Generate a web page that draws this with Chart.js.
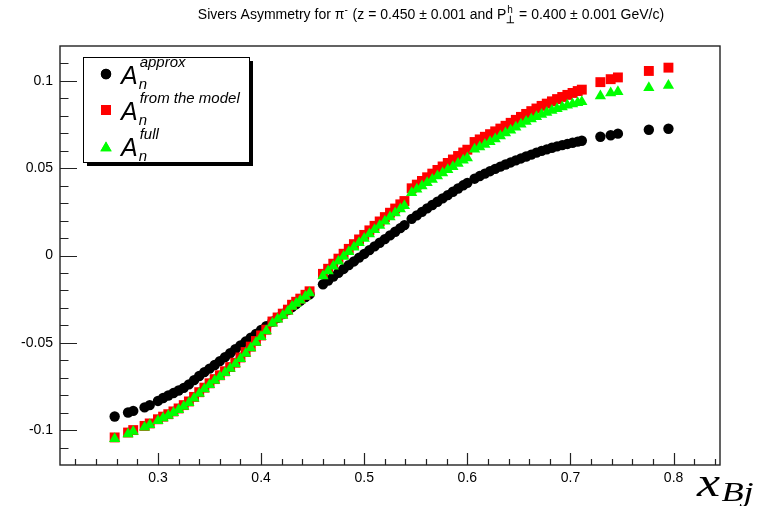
<!DOCTYPE html>
<html><head><meta charset="utf-8">
<script src="https://cdn.jsdelivr.net/npm/chart.js@4.4.1/dist/chart.umd.min.js"></script>
<style>html,body{margin:0;padding:0;background:#fff;} canvas{display:block;}</style>
</head><body>
<canvas id="c" width="762" height="506"></canvas>
<script>
// ---- data ----
const xBj = [
 0.258, 0.271, 0.276, 0.287, 0.292,
 0.300, 0.305, 0.310, 0.315, 0.320, 0.325, 0.330, 0.335, 0.340, 0.345, 0.350, 0.355, 0.360, 0.365, 0.370, 0.375, 0.380, 0.385, 0.390, 0.395, 0.400, 0.405,
 0.411, 0.416, 0.421, 0.426,
 0.430, 0.434, 0.438, 0.443, 0.447,
 0.460, 0.465, 0.470, 0.475, 0.480, 0.485, 0.490, 0.495, 0.500, 0.505, 0.510, 0.515, 0.520, 0.525, 0.530, 0.535, 0.539,
 0.546, 0.551, 0.556, 0.561, 0.566, 0.571, 0.576, 0.581, 0.586, 0.591, 0.596, 0.600,
 0.607, 0.612, 0.617, 0.622, 0.627, 0.632, 0.637, 0.642, 0.647, 0.652, 0.657, 0.662, 0.667, 0.672, 0.677, 0.682, 0.687, 0.692, 0.697, 0.702, 0.707, 0.711,
 0.729, 0.739, 0.746,
 0.776, 0.795
];
const anApprox = [
 -0.0922, -0.0899, -0.0890, -0.0870, -0.0857,
 -0.0833, -0.0816, -0.0802, -0.0788, -0.0773, -0.0758, -0.0738, -0.0714, -0.0690, -0.0668, -0.0648, -0.0627, -0.0605, -0.0582, -0.0560, -0.0537, -0.0515, -0.0493, -0.0471, -0.0449, -0.0427, -0.0405,
 -0.0379, -0.0357, -0.0335, -0.0313,
 -0.0296, -0.0278, -0.0260, -0.0238, -0.0222,
 -0.0165, -0.0143, -0.0121, -0.0099, -0.0077, -0.0055, -0.0034, -0.0012, 0.0009, 0.0031, 0.0052, 0.0073, 0.0094, 0.0115, 0.0136, 0.0157, 0.0174,
 0.0210, 0.0230, 0.0250, 0.0270, 0.0289, 0.0308, 0.0327, 0.0346, 0.0365, 0.0384, 0.0402, 0.0416,
 0.0440, 0.0455, 0.0469, 0.0483, 0.0496, 0.0509, 0.0521, 0.0533, 0.0545, 0.0556, 0.0567, 0.0578, 0.0589, 0.0599, 0.0608, 0.0617, 0.0625, 0.0632, 0.0639, 0.0646, 0.0652, 0.0657,
 0.0680, 0.0689, 0.0698,
 0.0720, 0.0726
];
const anModel = [
 -0.1042, -0.1014, -0.1000, -0.0976, -0.0962,
 -0.0938, -0.0923, -0.0909, -0.0893, -0.0876, -0.0857, -0.0836, -0.0810, -0.0783, -0.0757, -0.0732, -0.0708, -0.0686, -0.0663, -0.0639, -0.0614, -0.0584, -0.0553, -0.0522, -0.0490, -0.0458, -0.0425,
 -0.0378, -0.0355, -0.0333, -0.0310,
 -0.0282, -0.0265, -0.0247, -0.0225, -0.0205,
 -0.0105, -0.0076, -0.0047, -0.0018, 0.0010, 0.0038, 0.0065, 0.0092, 0.0118, 0.0144, 0.0170, 0.0195, 0.0220, 0.0245, 0.0269, 0.0293, 0.0312,
 0.0385, 0.0406, 0.0427, 0.0448, 0.0469, 0.0490, 0.0510, 0.0530, 0.0550, 0.0570, 0.0590, 0.0606,
 0.0650, 0.0665, 0.0680, 0.0695, 0.0711, 0.0727, 0.0743, 0.0760, 0.0777, 0.0794, 0.0811, 0.0827, 0.0842, 0.0857, 0.0870, 0.0883, 0.0896, 0.0908, 0.0920, 0.0931, 0.0942, 0.0950,
 0.0993, 0.1010, 0.1020,
 0.1057, 0.1076
];
const anFull = [
 -0.1050, -0.1022, -0.1008, -0.0984, -0.0970,
 -0.0946, -0.0931, -0.0917, -0.0901, -0.0884, -0.0865, -0.0844, -0.0818, -0.0791, -0.0765, -0.0740, -0.0716, -0.0694, -0.0671, -0.0647, -0.0622, -0.0592, -0.0561, -0.0530, -0.0498, -0.0466, -0.0433,
 -0.0388, -0.0365, -0.0343, -0.0320,
 -0.0292, -0.0275, -0.0257, -0.0235, -0.0215,
 -0.0117, -0.0089, -0.0061, -0.0033, -0.0006, 0.0021, 0.0047, 0.0073, 0.0098, 0.0123, 0.0148, 0.0172, 0.0196, 0.0220, 0.0243, 0.0266, 0.0285,
 0.0360, 0.0379, 0.0398, 0.0417, 0.0436, 0.0455, 0.0473, 0.0491, 0.0509, 0.0527, 0.0545, 0.0559,
 0.0608, 0.0622, 0.0636, 0.0651, 0.0667, 0.0684, 0.0701, 0.0718, 0.0735, 0.0752, 0.0768, 0.0782, 0.0795, 0.0808, 0.0819, 0.0830, 0.0841, 0.0851, 0.0860, 0.0868, 0.0875, 0.0880,
 0.0913, 0.0931, 0.0938,
 0.0961, 0.0974
];
const xTickValues = [0.3, 0.4, 0.5, 0.6, 0.7, 0.8];
const xTickLabels = ['0.3', '0.4', '0.5', '0.6', '0.7', '0.8'];
const yTickValues = [-0.1, -0.05, 0, 0.05, 0.1];
const yTickLabels = ['-0.1', '-0.05', '0', '0.05', '0.1'];
const seriesSup = ['approx', 'from the model', 'full'];
const seriesMain = 'A';
const seriesSub = 'n';
const titleParts = [
  {t: 'Sivers Asymmetry for \u03c0', k: 'n'},
  {t: '-', k: 'sup'},
  {t: ' (z = 0.450 \u00b1 0.001 and P', k: 'n'},
  {t: '\u22a5', k: 'sub'},
  {t: 'h', k: 'supstack'},
  {t: ' = 0.400 \u00b1 0.001 GeV/c)', k: 'n'}
];
const xTitleMain = 'x';
const xTitleSub = 'Bj';

const toPts = arr => xBj.map((x, i) => ({x: x, y: arr[i]}));

const SANS = '"Liberation Sans", Arial, Helvetica, sans-serif';
const SERIF = '"Liberation Serif", "DejaVu Serif", serif';

const rootPlugin = {
  id: 'rootDecor',
  afterDraw(chart) {
    const {ctx, chartArea: a, scales} = chart;
    const sx = scales.x, sy = scales.y;
    ctx.save();
    // frame
    ctx.strokeStyle = '#222';
    ctx.lineWidth = 1.4;
    ctx.strokeRect(a.left, a.top, a.right - a.left, a.bottom - a.top);
    // ticks
    ctx.lineWidth = 1.2;
    ctx.beginPath();
    for (let i = -11; i <= 11; i++) {
      const py = Math.round(sy.getPixelForValue(i / 100)) + 0.5;
      const L = (i % 5 === 0) ? 17 : 8.5;
      ctx.moveTo(a.left, py); ctx.lineTo(a.left + L, py);
    }
    for (let i = 11; i <= 42; i++) {
      const px = Math.round(sx.getPixelForValue(i * 0.02)) + 0.5;
      const L = (i % 5 === 0) ? 12 : 6;
      ctx.moveTo(px, a.bottom); ctx.lineTo(px, a.bottom - L);
    }
    ctx.stroke();

    // title
    const fs = 14;
    const fsS = 10;
    ctx.fillStyle = '#000';
    ctx.textBaseline = 'alphabetic';
    ctx.textAlign = 'left';
    const fontFor = k => (k === 'n' ? fs + 'px ' + SANS : (k === 'sub' ? 'bold ' + fsS + 'px ' + SANS : fsS + 'px ' + SANS));
    let total = 0, lastStart = 0, lastW = 0;
    const layout = [];
    for (const p of titleParts) {
      ctx.font = fontFor(p.k);
      const w = ctx.measureText(p.t).width;
      if (p.k === 'supstack') {
        layout.push({p, x: lastStart});
        total += Math.max(0, w - lastW);
      } else {
        layout.push({p, x: total});
        lastStart = total; lastW = w;
        total += w + (p.k === 'sup' ? 1 : 0);
      }
    }
    const tx0 = 431 - total / 2, tb = 19;
    for (const it of layout) {
      ctx.font = fontFor(it.p.k);
      let yy = tb;
      if (it.p.k === 'sup' || it.p.k === 'supstack') yy = tb - 6;
      if (it.p.k === 'sub') yy = tb + 4;
      ctx.fillText(it.p.t, tx0 + it.x + (it.p.k === 'supstack' ? 1 : 0), yy);
    }

    // legend
    const lg = {x: 83, y: 57, w: 166, h: 105};
    ctx.fillStyle = '#000';
    ctx.fillRect(lg.x + 4, lg.y + 4, lg.w, lg.h);
    ctx.fillStyle = '#fff';
    ctx.fillRect(lg.x, lg.y, lg.w, lg.h);
    ctx.strokeStyle = '#000';
    ctx.lineWidth = 1;
    ctx.strokeRect(lg.x + 0.5, lg.y + 0.5, lg.w, lg.h);
    const ds = chart.data.datasets;
    const rows = [74, 110, 146];
    for (let r = 0; r < 3; r++) {
      const d = ds[r];
      ctx.fillStyle = d.backgroundColor;
      Chart.helpers.drawPoint(ctx, {pointStyle: d.pointStyle, radius: d.pointRadius, rotation: 0, borderWidth: 0}, 106, rows[r] + (d.pointStyle === 'triangle' ? 2 : 0));
      ctx.fill();
      ctx.fillStyle = '#000';
      const base = rows[r] + 10;
      ctx.font = 'italic 25px ' + SANS;
      ctx.fillText(seriesMain, 121, base);
      const wA = ctx.measureText(seriesMain).width;
      ctx.font = 'italic 15px ' + SANS;
      ctx.fillText(seriesSub, 121 + wA + 1, base + 5);
      ctx.fillText(seriesSup[r], 121 + wA + 2, base - 17);
    }

    // x axis title (stretched serif italic, like the LaTeX math font)
    ctx.fillStyle = '#000';
    ctx.save();
    ctx.translate(697, 0);
    ctx.scale(1.3, 1);
    ctx.font = 'italic 40px ' + SERIF;
    ctx.fillText(xTitleMain, 0, 496);
    const wx = ctx.measureText(xTitleMain).width;
    ctx.font = 'italic 28px ' + SERIF;
    ctx.fillText(xTitleSub, wx + 1, 501);
    ctx.restore();
    ctx.restore();
  }
};

new Chart(document.getElementById('c'), {
  type: 'scatter',
  data: {
    datasets: [
      {label: 'approx', data: toPts(anApprox), pointStyle: 'circle', pointRadius: 5.2, backgroundColor: '#000000', borderWidth: 0, order: 3},
      {label: 'from the model', data: toPts(anModel), pointStyle: 'rect', pointRadius: 7, backgroundColor: '#ff0000', borderWidth: 0, order: 2},
      {label: 'full', data: toPts(anFull), pointStyle: 'triangle', pointRadius: 6.5, backgroundColor: '#00ff00', borderWidth: 0, order: 1}
    ]
  },
  options: {
    responsive: false,
    animation: false,
    devicePixelRatio: 1,
    layout: {padding: {top: 46, right: 42, left: 0, bottom: 0}},
    plugins: {legend: {display: false}, tooltip: {enabled: false}, title: {display: false}},
    elements: {point: {hoverRadius: 0}},
    scales: {
      x: {
        type: 'linear', min: 0.205, max: 0.845,
        grid: {display: false, drawTicks: false},
        border: {display: false},
        afterBuildTicks: s => { s.ticks = xTickValues.map(v => ({value: v})); },
        afterFit: s => { s.height = 41; },
        ticks: {autoSkip: false, maxRotation: 0, padding: 5, color: '#000', font: {family: SANS, size: 14},
          callback: (v, i) => xTickLabels[i]}
      },
      y: {
        type: 'linear', min: -0.12, max: 0.12,
        grid: {display: false, drawTicks: false},
        border: {display: false},
        afterBuildTicks: s => { s.ticks = yTickValues.map(v => ({value: v})); },
        afterFit: s => { s.width = 60; },
        ticks: {autoSkip: false, padding: 7, color: '#000', font: {family: SANS, size: 14},
          callback: (v, i) => yTickLabels[i]}
      }
    }
  },
  plugins: [rootPlugin]
});
</script>
</body></html>
